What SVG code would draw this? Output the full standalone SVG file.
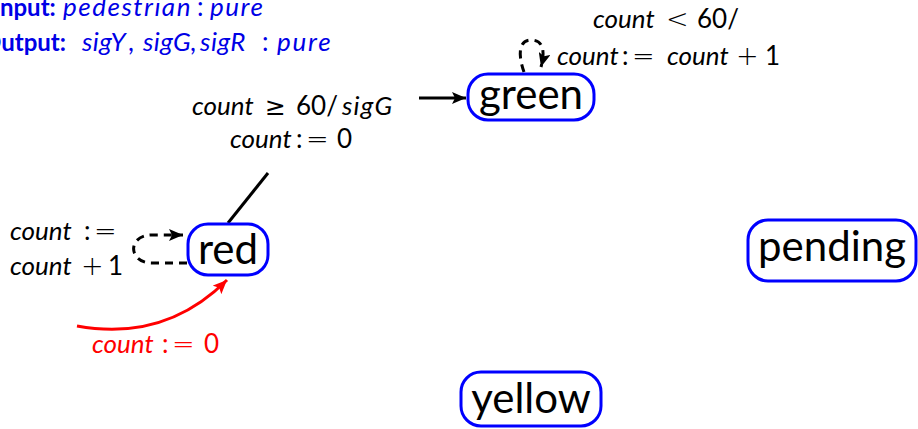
<svg xmlns="http://www.w3.org/2000/svg" width="918" height="429" viewBox="0 0 918 429">
<defs>
<marker id="ah" markerUnits="userSpaceOnUse" markerWidth="16" markerHeight="12" refX="14" refY="6" orient="auto"><path d="M0,0 L14,6 L0,12 L3,6 Z" fill="#000"/></marker>
<marker id="ahr" markerUnits="userSpaceOnUse" markerWidth="16" markerHeight="12" refX="14" refY="6" orient="auto"><path d="M0,0 L14,6 L0,12 L3,6 Z" fill="#ff0000"/></marker>
<style>
.node{fill:#fff;stroke:#0000ff;stroke-width:3}
.nl{font-family:Lato,"Liberation Sans",sans-serif;font-size:42px;fill:#000;text-anchor:middle}
.lbl{font-family:Lato,"Liberation Sans",sans-serif;font-size:26px;fill:#000}
.it{font-style:italic}
.op{font-family:"DejaVu Sans",Lato,sans-serif;font-weight:200;font-size:27px}
.op2{font-family:"DejaVu Sans",Lato,sans-serif;font-weight:normal;font-size:25px}
.hdr{font-family:Lato,"Liberation Sans",sans-serif;font-size:26px;fill:#0000e6}
.b{font-weight:bold;font-size:24px}
.e{fill:none;stroke:#000;stroke-width:3}
.d{stroke-dasharray:8,6}
</style>
</defs>
<g id="header">
<text class="hdr" y="16"><tspan class="b" x="-7">Input:</tspan><tspan class="it" x="63" letter-spacing="1.5">pedestrian</tspan><tspan x="197">:</tspan><tspan class="it" x="210" letter-spacing="1.5">pure</tspan></text>
<text class="hdr" y="51"><tspan class="b" x="-18">Output:</tspan><tspan class="it" x="82" letter-spacing="0.4">sigY</tspan><tspan x="128">,</tspan><tspan class="it" x="143" letter-spacing="0.4">sigG</tspan><tspan x="190">,</tspan><tspan class="it" x="200" letter-spacing="0.5">sigR</tspan><tspan x="262">:</tspan><tspan class="it" x="277" letter-spacing="1.8">pure</tspan></text>
</g>
<g id="connectors">
<path class="e" d="M419,98 L466,98" marker-end="url(#ah)"/>
<path class="e" d="M228,223 L268,173"/>
<path class="e d" d="M524,72 C517,52 520,40 531,40 C544,40 545,52 541,67" marker-end="url(#ah)"/>
<path class="e d" d="M187,263 L152,263 C128,263 127,235 152,235 L183,235" marker-end="url(#ah)"/>
<path d="M77,326 Q165,342 227,280" fill="none" stroke="#ff0000" stroke-width="3" marker-end="url(#ahr)"/>
<text class="lbl" y="28"><tspan class="it" x="593">count</tspan><tspan class="op" x="666">&lt;</tspan><tspan x="697">60/</tspan></text>
<text class="lbl" y="65"><tspan class="it" x="557">count</tspan><tspan x="622">:</tspan><tspan class="op" x="632">=</tspan><tspan class="it" x="667">count</tspan><tspan class="op" x="736">+</tspan><tspan x="765">1</tspan></text>
<text class="lbl" y="115"><tspan class="it" x="192">count</tspan><tspan class="op2" x="265">≥</tspan><tspan x="296">60/</tspan><tspan class="it" x="342" letter-spacing="1.2">sigG</tspan></text>
<text class="lbl" y="148"><tspan class="it" x="230">count</tspan><tspan x="296">:</tspan><tspan class="op" x="306">=</tspan><tspan x="337">0</tspan></text>
<text class="lbl" y="240"><tspan class="it" x="10">count</tspan><tspan x="84">:</tspan><tspan class="op" x="94">=</tspan></text>
<text class="lbl" y="275"><tspan class="it" x="10">count</tspan><tspan class="op" x="81">+</tspan><tspan x="108">1</tspan></text>
<text class="lbl" y="353" style="fill:#ff0000"><tspan class="it" x="92">count</tspan><tspan x="162">:</tspan><tspan class="op" x="172">=</tspan><tspan x="204">0</tspan></text>
</g>
<g id="green">
<rect class="node" x="468" y="74" width="126" height="46" rx="20"/>
<text class="nl" x="531" y="109">green</text>
</g>
<g id="red">
<rect class="node" x="188" y="224" width="80" height="51" rx="20"/>
<text class="nl" x="228" y="264">red</text>
</g>
<g id="pending">
<rect class="node" x="748" y="220" width="168" height="61" rx="20"/>
<text class="nl" x="832" y="261">pending</text>
</g>
<g id="yellow">
<rect class="node" x="461" y="372" width="140" height="54" rx="20"/>
<text class="nl" x="531" y="413">yellow</text>
</g>
</svg>
